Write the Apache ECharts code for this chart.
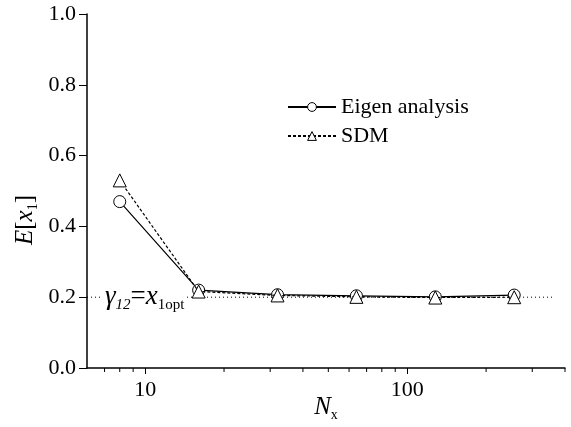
<!DOCTYPE html>
<html><head><meta charset="utf-8">
<script src="https://cdn.jsdelivr.net/npm/echarts@6/dist/echarts.min.js"></script>
<style>html,body{margin:0;padding:0;background:#fff}#c{width:571px;height:427px}</style>
</head><body><div id="c"></div>
<script>
const nx = [8, 16, 32, 64, 128, 256];
const eigen = [0.47, 0.22, 0.207, 0.204, 0.201, 0.206];
const sdm = [0.53, 0.216, 0.205, 0.201, 0.199, 0.200];
const refLevel = 0.2;
const refRange = [6, 365];
const minorTicks = [7, 8, 9, 20, 30, 40, 50, 60, 70, 80, 90, 200, 300, 400];

const FONT = 'Liberation Serif';
const chart = echarts.init(document.getElementById('c'), null, {renderer: 'canvas'});
const option = {
  animation: false,
  backgroundColor: '#fff',
  textStyle: {fontFamily: FONT, color: '#000'},
  grid: {left: 87, right: 6, top: 14, bottom: 59, containLabel: false, outerBoundsMode: 'none'},
  legend: {
    orient: 'vertical', left: 282, top: 91, itemGap: 7,
    itemWidth: 48, itemHeight: 11,
    data: [
      {name: 'Eigen analysis', itemStyle: {borderWidth: 1}},
      {name: 'SDM', itemStyle: {borderWidth: 1}}
    ],
    textStyle: {fontFamily: FONT, fontSize: 22, color: '#000'}
  },
  xAxis: {
    type: 'log', logBase: 10, min: 6, max: 400,
    name: '{i|N}{s|x}', nameLocation: 'middle', nameGap: 24, nameMoveOverlap: false,
    nameTextStyle: {
      rich: {
        i: {fontFamily: FONT, fontStyle: 'italic', fontSize: 25, color: '#000'},
        s: {fontFamily: FONT, fontSize: 14, color: '#000', padding: [16, 0, 0, 0]}
      }
    },
    axisLine: {lineStyle: {color: '#000', width: 1.5}},
    axisTick: {length: 6, lineStyle: {color: '#000'}},
    axisLabel: {fontFamily: FONT, fontSize: 22, color: '#000', margin: 11,
      showMinLabel: false, showMaxLabel: false},
    splitLine: {show: false}
  },
  yAxis: {
    type: 'value', min: 0, max: 1, interval: 0.2,
    name: '{i|E}{r|[}{i|x}{s|1}{r|]}', nameLocation: 'middle', nameGap: 47, nameRotate: 90,
    nameMoveOverlap: false,
    nameTextStyle: {
      padding: [0, 58, 0, 0],
      rich: {
        i: {fontFamily: FONT, fontStyle: 'italic', fontSize: 25, color: '#000'},
        r: {fontFamily: FONT, fontSize: 25, color: '#000'},
        s: {fontFamily: FONT, fontSize: 14, color: '#000', padding: [16, 0, 0, 0]}
      }
    },
    axisLine: {show: true, lineStyle: {color: '#000', width: 1.5}},
    axisTick: {show: true, length: 8, lineStyle: {color: '#000'}},
    axisLabel: {fontFamily: FONT, fontSize: 22, color: '#000', margin: 11,
      formatter: v => v.toFixed(1)},
    splitLine: {show: false}
  },
  series: [
    {
      name: 'ref', type: 'line', silent: true, symbol: 'none',
      data: refRange.map(x => [x, refLevel]),
      lineStyle: {color: '#000', width: 1, type: [1, 3]}, z: 1
    },
    {
      name: 'label', type: 'scatter', silent: true, symbolSize: 0,
      data: [[6.9, refLevel]], z: 5,
      itemStyle: {color: '#000'},
      label: {
        show: true, position: 'inside', align: 'left', verticalAlign: 'middle',
        color: '#000', textBorderWidth: 0, opacity: 1,
        backgroundColor: '#fff', padding: [0, 2, 0, 2],
        formatter: '{i|γ}{si|12}{r|=}{i|x}{s|1opt}',
        rich: {
          i: {fontFamily: FONT, fontStyle: 'italic', fontSize: 27, color: '#000', textBorderWidth: 0},
          r: {fontFamily: FONT, fontSize: 27, color: '#000', textBorderWidth: 0},
          si: {fontFamily: FONT, fontStyle: 'italic', fontSize: 15, color: '#000', textBorderWidth: 0, padding: [16, 0, 0, 0]},
          s: {fontFamily: FONT, fontSize: 15, color: '#000', textBorderWidth: 0, padding: [16, 0, 0, 0]}
        }
      }
    },
    {
      name: 'Eigen analysis', type: 'line',
      data: nx.map((x, i) => [x, eigen[i]]),
      symbol: 'circle', symbolSize: 12,
      itemStyle: {color: '#fff', borderColor: '#000', borderWidth: 1},
      lineStyle: {color: '#000', width: 1.2}, z: 3
    },
    {
      name: 'SDM', type: 'line',
      data: nx.map((x, i) => [x, sdm[i]]),
      symbol: 'triangle', symbolSize: 13,
      itemStyle: {color: '#fff', borderColor: '#000', borderWidth: 1},
      lineStyle: {color: '#000', width: 1.2, type: [3, 2]}, z: 4
    },
    {
      name: 'minor', type: 'custom', silent: true, clip: false,
      data: minorTicks.map(v => [v, 0]),
      renderItem: (params, api) => {
        const p = api.coord([api.value(0), api.value(1)]);
        return {type: 'line', shape: {x1: p[0], y1: p[1], x2: p[0], y2: p[1] + 4},
          style: {stroke: '#000', lineWidth: 1}};
      }, z: 2
    }
  ]
};
chart.setOption(option);
</script></body></html>
